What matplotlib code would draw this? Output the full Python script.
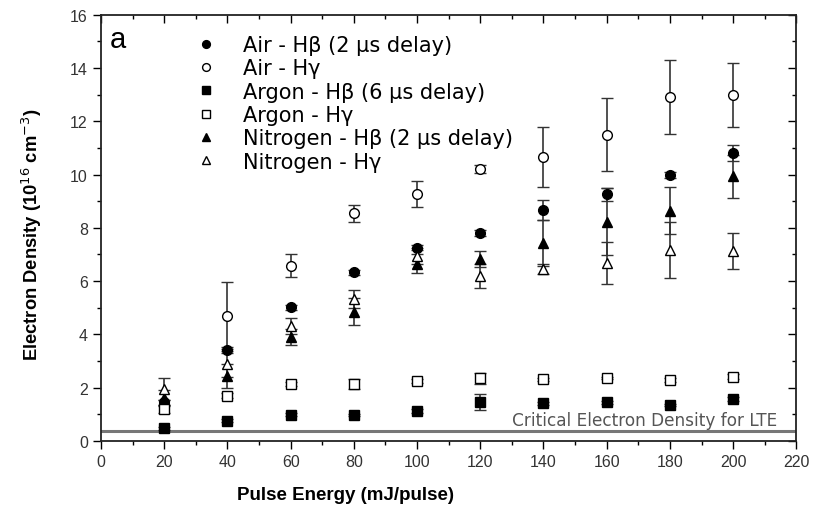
import numpy as np
import matplotlib
matplotlib.use("Agg")
import matplotlib.pyplot as plt
from matplotlib.ticker import MultipleLocator

plt.rcParams['font.family'] = ['Liberation Sans', 'DejaVu Sans']

energy = [20, 40, 60, 80, 100, 120, 140, 160, 180, 200]

air_hb = [1.45, 3.42, 5.02, 6.33, 7.25, 7.81, 8.68, 9.26, 9.98, 10.8]
air_hb_err = [0.1, 0.12, 0.1, 0.1, 0.1, 0.12, 0.37, 0.25, 0.12, 0.3]

air_hg = [np.nan, 4.70, 6.58, 8.55, 9.27, 10.2, 10.67, 11.5, 12.9, 13.0]
air_hg_err = [0, 1.26, 0.44, 0.32, 0.5, 0.15, 1.13, 1.38, 1.38, 1.2]

ar_hb = [0.47, 0.76, 0.99, 0.98, 1.14, 1.45, 1.41, 1.45, 1.35, 1.58]
ar_hb_err = [0.05, 0.05, 0.05, 0.05, 0.08, 0.3, 0.05, 0.05, 0.05, 0.08]

ar_hg = [1.2, 1.70, 2.14, 2.14, 2.24, 2.35, 2.31, 2.37, 2.29, 2.42]
ar_hg_err = [0.15, 0.1, 0.08, 0.2, 0.08, 0.2, 0.05, 0.05, 0.08, 0.08]

n_hb = [1.6, 2.45, 3.92, 4.86, 6.65, 6.83, 7.43, 8.23, 8.65, 9.93]
n_hb_err = [0.3, 0.45, 0.3, 0.5, 0.35, 0.3, 0.85, 1.25, 0.9, 0.8]

n_hg = [1.95, 2.89, 4.33, 5.33, 6.96, 6.21, 6.46, 6.68, 7.18, 7.14]
n_hg_err = [0.4, 0.5, 0.3, 0.35, 0.3, 0.45, 0.2, 0.8, 1.05, 0.67]

lte_level = 0.36

labels = ["Air - H\u03b2 (2 \u03bcs delay)", "Air - H\u03b3",
          "Argon - H\u03b2 (6 \u03bcs delay)", "Argon - H\u03b3",
          "Nitrogen - H\u03b2 (2 \u03bcs delay)", "Nitrogen - H\u03b3"]

fig = plt.figure(figsize=(8.18, 5.10), dpi=100)
ax = fig.add_axes([0.1235, 0.1333, 0.85, 0.836])

series = [
    (air_hb, air_hb_err, 'o', 'black'),
    (air_hg, air_hg_err, 'o', 'white'),
    (ar_hb, ar_hb_err, 's', 'black'),
    (ar_hg, ar_hg_err, 's', 'white'),
    (n_hb, n_hb_err, '^', 'black'),
    (n_hg, n_hg_err, '^', 'white'),
]

handles = []
for (vals, errs, mk, fc), lab in zip(series, labels):
    h = ax.errorbar(energy, vals, yerr=errs, fmt=mk, mfc=fc, mec='black',
                    mew=1.0, ms=7, ecolor='#333333', elinewidth=1.2,
                    capsize=4, capthick=1.2, label=lab, zorder=3)
    handles.append(h)

ax.axhline(lte_level, color='#777777', lw=2.2, zorder=2)
ax.text(214, lte_level + 0.1, "Critical Electron Density for LTE",
        ha='right', va='bottom', fontsize=12.2, color='#555555',
        family=['DejaVu Sans'])

ax.set_xlim(0, 220)
ax.set_ylim(0, 16)
ax.xaxis.set_major_locator(MultipleLocator(20))
ax.xaxis.set_minor_locator(MultipleLocator(10))
ax.yaxis.set_major_locator(MultipleLocator(2))
ax.yaxis.set_minor_locator(MultipleLocator(1))

ax.tick_params(which='both', top=True, right=True)
ax.tick_params(axis='x', which='both', direction='out')
ax.tick_params(axis='y', which='both', direction='out')
ax.tick_params(which='major', length=6, width=1.0, labelsize=11.5, labelcolor='#333333')
ax.tick_params(which='minor', length=3, width=1.0)
# top / right ticks inward
for t in ax.xaxis.get_major_ticks() + ax.xaxis.get_minor_ticks():
    t.tick2line.set_marker(3)
for t in ax.yaxis.get_major_ticks() + ax.yaxis.get_minor_ticks():
    t.tick2line.set_marker(0)

for sp in ax.spines.values():
    sp.set_linewidth(1.3)
    sp.set_color('#222222')

ax.set_xlabel("Pulse Energy (mJ/pulse)", fontsize=13.5, fontweight='bold')
ax.xaxis.set_label_coords(0.352, -0.105)
ax.set_ylabel("Electron Density (10$^{16}$ cm$^{-3}$)", fontsize=13.2,
              fontweight='bold')
ax.yaxis.set_label_coords(-0.082, 0.485)

ax.text(0.012, 0.975, "a", transform=ax.transAxes, fontsize=21,
        ha='left', va='top')

leg = ax.legend(handles=[h[0] for h in handles], labels=labels,
                loc='upper left', bbox_to_anchor=(0.137, 0.952), frameon=False,
                prop={'family': ['DejaVu Sans'], 'size': 15},
                handlelength=0.9, handletextpad=1.35, markerscale=0.8,
                labelspacing=0.16, borderaxespad=0.0, borderpad=0.0)

fig.savefig("out.png", dpi=100)
